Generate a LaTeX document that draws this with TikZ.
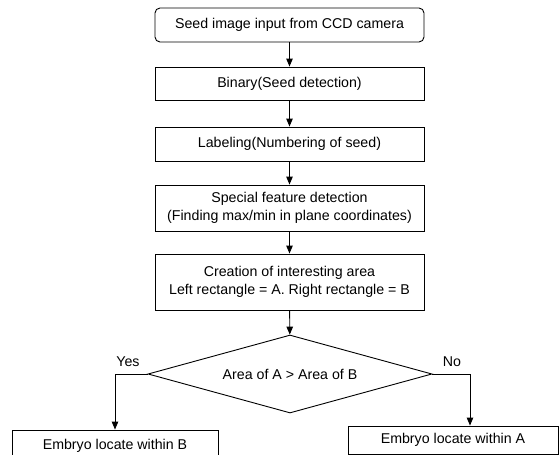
\documentclass[tikz,border=0pt]{standalone}
\usepackage{fontspec}
\setmainfont{Liberation Sans}
\usetikzlibrary{shapes.geometric,arrows.meta}
\begin{document}
\begin{tikzpicture}[x=1pt,y=-1pt,
  every node/.style={font=\fontsize{14.2}{18}\selectfont},
  box/.style={draw,line width=0.9pt,rectangle,inner sep=0pt,minimum width=269pt,align=center},
  arr/.style={line width=0.9pt,-{Triangle[length=8pt,width=6.5pt]}},
  ln/.style={line width=0.9pt}]
\useasboundingbox (0,0) rectangle (560,455);
\node[box,rounded corners=5pt,minimum height=34pt] (b1) at (289.5,25) {Seed image input from CCD camera};
\node[box,minimum height=33pt] (b2) at (289.5,83.5) {Binary(Seed detection)};
\node[box,minimum height=34pt] (b3) at (289.5,144) {Labeling(Numbering of seed)};
\node[box,minimum height=46pt] (b4) at (289.5,208) {Special feature detection\\(Finding max/min in plane coordinates)};
\node[box,minimum height=56pt] (b5) at (289.5,282) {Creation of interesting area\\Left rectangle = A. Right rectangle = B};
\node[draw,line width=0.9pt,diamond,aspect=3.6,inner sep=0pt,minimum width=284pt,minimum height=78pt] (dia) at (290,374) {Area of A > Area of B};
\node[box,minimum width=206pt,minimum height=32pt] (lb) at (115,446) {Embryo locate within B};
\node[box,minimum width=210pt,minimum height=28pt] (rb) at (453,440) {Embryo locate within A};
\node (yes) at (128,362) {Yes};
\node (no) at (452,362) {No};
\coordinate (nox) at (470,374);
\draw[arr] (b1) -- (b2);
\draw[arr] (b2) -- (b3);
\draw[arr] (b3) -- (b4);
\draw[arr] (b4) -- (b5);
\draw[arr] (b5) -- (dia);
\draw[arr] (dia.west) -| (lb.north);
\draw[ln] (dia.east) -- (nox);
\draw[arr] (nox) -- (nox |- rb.north);
\end{tikzpicture}
\end{document}
